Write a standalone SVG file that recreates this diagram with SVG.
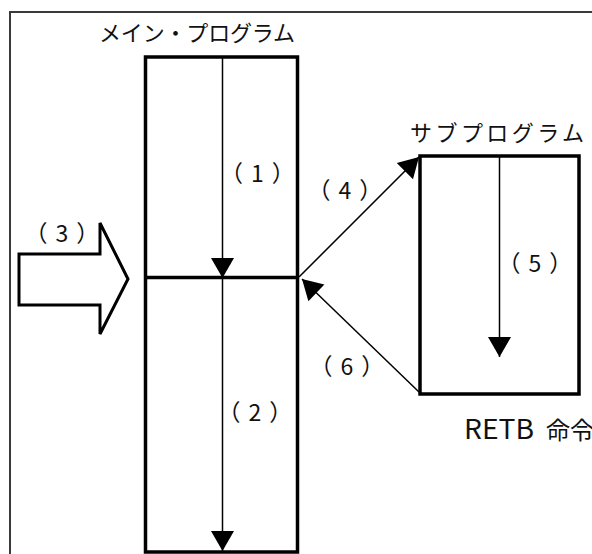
<svg xmlns="http://www.w3.org/2000/svg" width="592" height="554" viewBox="0 0 592 554">
  <defs>
    <style>
      .frame { fill: none; stroke: #3a3a3a; stroke-width: 2; }
      .box { fill: #ffffff; stroke: #000000; stroke-width: 3.5; }
      .flow { fill: none; stroke: #000000; stroke-width: 1.5; marker-end: url(#tri); }
      .jp { font-family: "Noto Sans CJK JP", "Liberation Sans", sans-serif; font-size: 22px; fill: #111111; }
      .lbl { font-family: "Noto Sans CJK JP", "Liberation Sans", sans-serif; font-size: 23px; letter-spacing: 8px; fill: #111111; }
    </style>
    <marker id="tri" markerUnits="userSpaceOnUse" markerWidth="20" markerHeight="23" refX="20" refY="11.5" orient="auto" overflow="visible">
      <path d="M0,0 L20,11.5 L0,23 Z" fill="#000000"/>
    </marker>
  </defs>

  <rect width="592" height="554" fill="#ffffff"/>

  <!-- outer frame (top and left edges visible) -->
  <path class="frame" d="M10,554 V12 H592"/>

  <!-- main program block -->
  <g id="main-program">
    <rect class="box" x="145.5" y="57" width="152" height="495"/>
    <line x1="145.5" y1="277.5" x2="297.5" y2="277.5" stroke="#000" stroke-width="3.5"/>
    <text class="jp" x="99" y="41" textLength="196" lengthAdjust="spacing">メイン・プログラム</text>
  </g>

  <!-- subprogram block -->
  <g id="sub-program">
    <rect class="box" x="420" y="156" width="159" height="238"/>
    <text class="jp" x="410" y="141" textLength="174" lengthAdjust="spacing">サブプログラム</text>
    <text class="jp" x="464" y="439"><tspan font-size="27" textLength="70" lengthAdjust="spacingAndGlyphs">RETB</tspan> <tspan x="546" font-size="24">命令</tspan></text>
  </g>

  <!-- entry arrow -->
  <g id="entry">
    <polygon points="19,254 100,254 100,223 128,279 100,334 100,305 19,305" fill="#ffffff" stroke="#000" stroke-width="3" stroke-linejoin="miter"/>
  </g>

  <!-- flow connectors -->
  <g id="connectors">
    <line class="flow" x1="222.5" y1="57" x2="222.5" y2="278"/>
    <line class="flow" x1="222.5" y1="278" x2="222.5" y2="551"/>
    <line class="flow" x1="499.5" y1="156" x2="499.5" y2="357"/>
    <line class="flow" x1="299" y1="277" x2="419" y2="157"/>
    <line class="flow" x1="419" y1="392" x2="302" y2="279"/>
  </g>

  <!-- step labels -->
  <g id="labels">
    <text class="lbl" x="261.5" y="181.5" text-anchor="middle">（1）</text>
    <text class="lbl" x="259" y="421" text-anchor="middle">（2）</text>
    <text class="lbl" x="66" y="242" text-anchor="middle">（3）</text>
    <text class="lbl" x="349" y="199" text-anchor="middle">（4）</text>
    <text class="lbl" x="539" y="272" text-anchor="middle">（5）</text>
    <text class="lbl" x="351" y="375" text-anchor="middle">（6）</text>
  </g>
</svg>
